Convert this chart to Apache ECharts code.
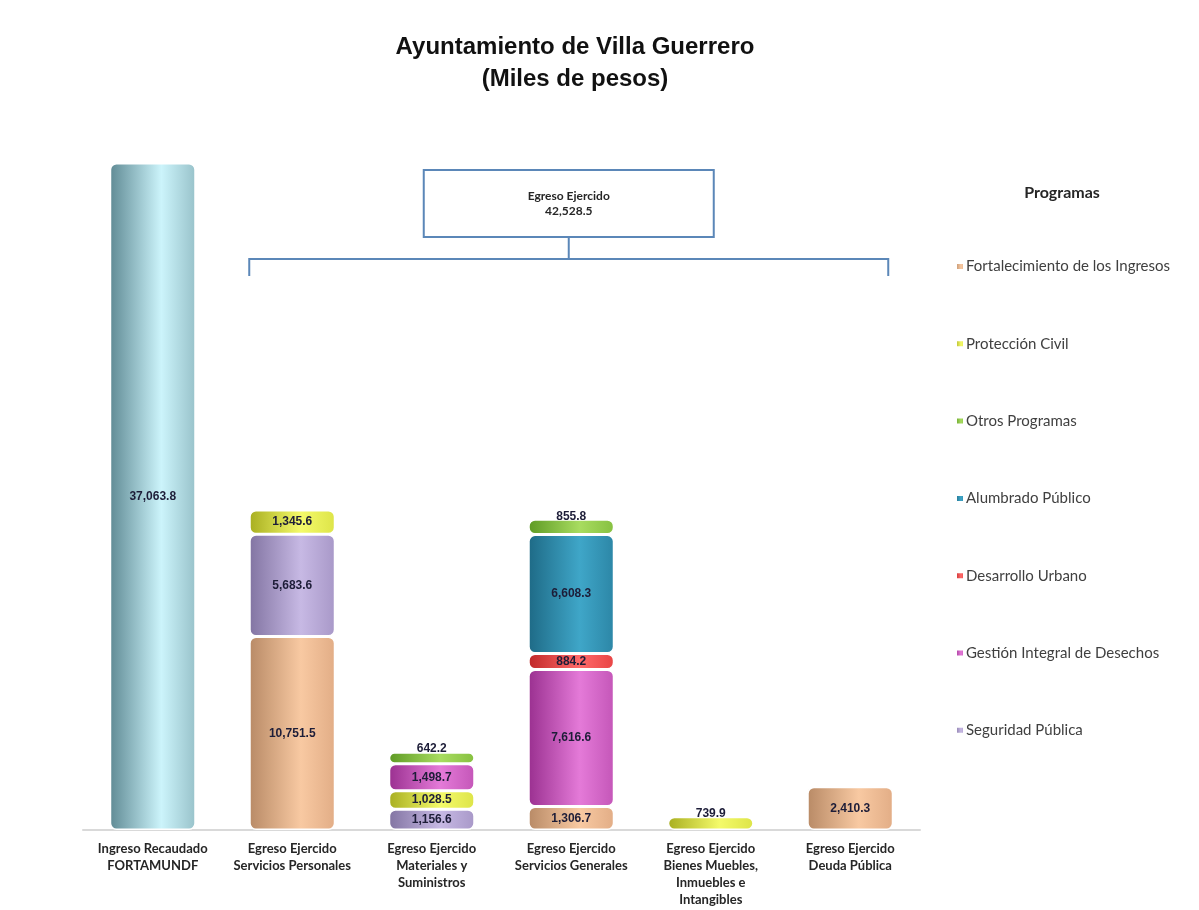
<!DOCTYPE html>
<html>
<head>
<meta charset="utf-8">
<script src="https://cdn.jsdelivr.net/npm/echarts@6/dist/echarts.min.js"></script>
<style>
  html, body { margin: 0; padding: 0; background: #fff; }
  #main { width: 1199px; height: 910px; }
</style>
</head>
<body>
<div id="main"></div>
<script>
// datos (miles de pesos)
var categories = ['Ingreso Recaudado\nFORTAMUNDF', 'Egreso Ejercido\nServicios Personales',
  'Egreso Ejercido\nMateriales y\nSuministros', 'Egreso Ejercido\nServicios Generales',
  'Egreso Ejercido\nBienes Muebles,\nInmuebles e\nIntangibles', 'Egreso Ejercido\nDeuda Pública'];
var ingreso = [37063.8, '-', '-', '-', '-', '-'];
var fortalecimiento = ['-', 10751.5, '-', 1306.7, '-', 2410.3];
var seguridad = ['-', 5683.6, 1156.6, '-', '-', '-'];
var proteccion = ['-', 1345.6, 1028.5, '-', 739.9, '-'];
var gestion = ['-', '-', 1498.7, 7616.6, '-', '-'];
var desarrollo = ['-', '-', '-', 884.2, '-', '-'];
var alumbrado = ['-', '-', '-', 6608.3, '-', '-'];
var otros = ['-', '-', 642.2, 855.8, '-', '-'];
var egresoTotal = 42528.5;
var legendOrder = ['Fortalecimiento de los Ingresos', 'Protección Civil', 'Otros Programas',
  'Alumbrado Público', 'Desarrollo Urbano', 'Gestión Integral de Desechos', 'Seguridad Pública'];

function fmt(v){
  return Number(v).toLocaleString('en-US', {minimumFractionDigits: 1, maximumFractionDigits: 1});
}
// sombreado tipo cilindro
function cyl(dark, light, mid){
  return new echarts.graphic.LinearGradient(0, 0, 1, 0, [
    {offset: 0, color: dark},
    {offset: 0.6, color: light},
    {offset: 1, color: mid}
  ]);
}

var chart = echarts.init(document.getElementById('main'));
var BAR_W = 86;

function mkSeries(name, data, grad, legendColor){
  return {
    name: name,
    type: 'bar',
    stack: 'total',
    barWidth: BAR_W,
    color: legendColor,
    itemStyle: {color: grad, borderColor: '#fff', borderWidth: 1.5, borderRadius: 6},
    label: {
      show: true,
      position: 'inside',
      fontFamily: 'Liberation Sans',
      fontWeight: 'bold',
      fontSize: 12,
      color: '#1d1d38',
      formatter: function(p){ return fmt(p.value); }
    },
    // etiquetas de segmentos pequeños arriba de la barra
    data: data.map(function(v){
      if (v !== '-' && v < 870)
        return {value: v, label: {position: 'top', distance: -3}};
      return v;
    })
  };
}

var list = [
  mkSeries('FORTAMUNDF', ingreso, cyl('#5f8a94', '#ccf4fb', '#98c2ca'), '#a8d8e0'),
  mkSeries('Fortalecimiento de los Ingresos', fortalecimiento, cyl('#b88a66', '#f8c9a2', '#e2ad86'), '#f0b88c'),
  mkSeries('Seguridad Pública', seguridad, cyl('#8274a2', '#c7b9e4', '#a898c8'), '#b3a2d0'),
  mkSeries('Protección Civil', proteccion, cyl('#a8ae20', '#f4fa6a', '#dde448'), '#e4ea4a'),
  mkSeries('Gestión Integral de Desechos', gestion, cyl('#9a3090', '#e47ad8', '#c456b8'), '#c94cbc'),
  mkSeries('Desarrollo Urbano', desarrollo, cyl('#c02828', '#ff6a6a', '#e84444'), '#ee4040'),
  mkSeries('Alumbrado Público', alumbrado, cyl('#1e6a86', '#3fa6c8', '#2c86a6'), '#2e8fb0'),
  mkSeries('Otros Programas', otros, cyl('#5e9a24', '#a8dc60', '#86c040'), '#8cc63f')
];

var option = {
  backgroundColor: '#fff',
  animation: false,
  title: {
    text: 'Ayuntamiento de Villa Guerrero\n(Miles de pesos)',
    left: 570,
    top: 26,
    textAlign: 'center',
    textStyle: {fontFamily: 'Liberation Sans', fontWeight: 'bold', fontSize: 24, lineHeight: 32, color: '#111'}
  },
  legend: {
    data: legendOrder,
    orient: 'vertical',
    left: 950,
    top: 254,
    itemWidth: 8,
    itemHeight: 7,
    itemGap: 62.3,
    icon: 'rect',
    textStyle: {fontFamily: 'Lato', fontSize: 15, color: '#404040', lineHeight: 14, padding: [0, 0, 0, -3]}
  },
  grid: {left: 83, right: 279, top: 130, bottom: 80},
  xAxis: {
    type: 'category',
    data: categories,
    axisTick: {show: false},
    axisLine: {lineStyle: {color: '#d9d9d9', width: 2}},
    axisLabel: {
      interval: 0,
      margin: 10,
      fontFamily: 'Lato',
      fontWeight: 'bold',
      fontSize: 13,
      lineHeight: 17,
      color: '#262626'
    }
  },
  yAxis: {type: 'value', min: 0, max: 38900, show: false, splitLine: {show: false}},
  series: list
};
chart.setOption(option);

// recuadro "Egreso Ejercido" y corchete sobre las barras de egreso
var xa = chart.convertToPixel({xAxisIndex: 0}, 1) - BAR_W / 2;
var xb = chart.convertToPixel({xAxisIndex: 0}, 5) + BAR_W / 2 - 5;
var xm = (xa + xb) / 2;
var lineY = 259, tickY = 276, boxTop = 170, boxH = 67, boxW = 290;
var blue = '#5b87b8';
chart.setOption({
  graphic: [
    {type: 'polyline', shape: {points: [[xa, tickY], [xa, lineY], [xb, lineY], [xb, tickY]]},
      style: {stroke: blue, lineWidth: 2, fill: null}},
    {type: 'line', shape: {x1: xm, y1: boxTop + boxH, x2: xm, y2: lineY}, style: {stroke: blue, lineWidth: 2}},
    {type: 'rect', shape: {x: xm - boxW / 2, y: boxTop, width: boxW, height: boxH},
      style: {fill: '#fff', stroke: blue, lineWidth: 2}},
    {type: 'text', x: xm, y: boxTop + 34,
      style: {text: 'Egreso Ejercido\n' + fmt(egresoTotal), align: 'center', verticalAlign: 'middle',
        fontFamily: 'Lato', fontWeight: 'bold', fontSize: 12, lineHeight: 15, fill: '#262626'}},
    {type: 'text', x: 1062, y: 193,
      style: {text: 'Programas', align: 'center', verticalAlign: 'middle',
        fontFamily: 'Lato', fontWeight: 'bold', fontSize: 16, fill: '#262626'}}
  ]
});
</script>
</body>
</html>
